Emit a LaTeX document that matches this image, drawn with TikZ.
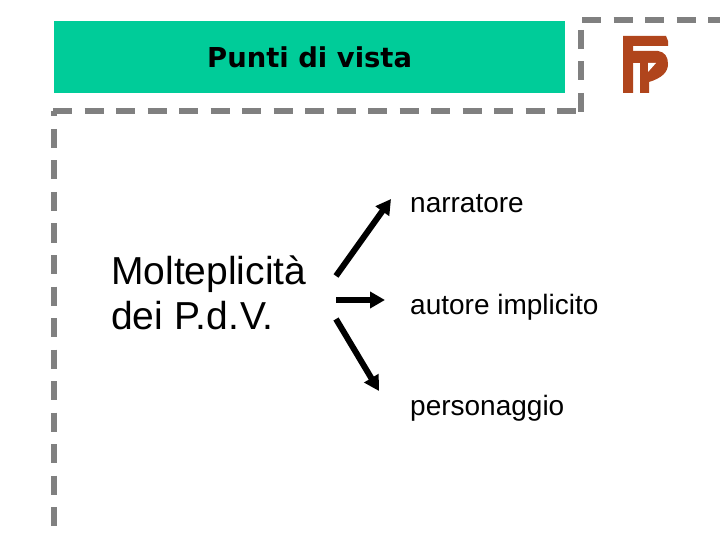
\documentclass[tikz,border=0pt]{standalone}
\usepackage{fontspec}
\setmainfont{Liberation Sans}
\newfontfamily\titlefont{DejaVu Sans}
\usetikzlibrary{arrows.meta}
\definecolor{band}{HTML}{00CC99}
\definecolor{dashgrey}{HTML}{808080}
\definecolor{logobrown}{HTML}{B0451C}
\tikzset{
  dashline/.style={draw=dashgrey,line width=6pt,dash pattern=on 19pt off 12.5pt},
  label/.style={anchor=base west,inner sep=0pt,font=\fontsize{28}{28}\selectfont},
  bigtext/.style={anchor=base west,inner sep=0pt,align=left,font=\fontsize{39}{45}\selectfont},
  branch/.style={-{Triangle[length=15pt,width=16pt]},line width=6pt,black}
}
\begin{document}
\begin{tikzpicture}[x=1pt,y=-1pt]
\useasboundingbox (0,0) rectangle (720,540);
\fill[white] (0,0) rectangle (720,540);
\node[fill=band,minimum width=511pt,minimum height=72pt,inner sep=0pt,anchor=north west] (header) at (54,21) {};
\node[inner sep=0pt,anchor=base west,font=\titlefont\bfseries\fontsize{27.4}{27.4}\selectfont] (title) at (207,68) {Punti di vista};
% dashed frame
\draw[dashline] (582,20.5) -- (720,20.5);
\draw[dashline] (581,30) -- (581,112);
\draw[dashline] (53,111) -- (576,111);
\draw[dashline] (54,129) -- (54,526);
\fill[dashgrey] (51,111) rectangle (57,116);
% logo
\fill[logobrown] (623,36) -- (666,36) -- (668,41) -- (668,46) -- (633,46) -- (633,93) -- (623,93) -- cycle;
\fill[logobrown] (633,51) -- (658,51) .. controls (665,52) and (668,57) .. (668,64)
  .. controls (668,72) and (662,78) .. (649,82) -- (649,93) -- (640,93) -- (640,63) -- (633,63) -- cycle;
\fill[white] (648,63) -- (656,63) -- (648,72) -- cycle;
% texts
\node[label] (nar) at (410,213) {narratore};
\node[label] (aut) at (410,314) {autore implicito};
\node[label] (per) at (410,415) {personaggio};
\node[bigtext] (mol) at (111,329) {Molteplicità\\dei P.\kern1pt d.\kern1pt V.};
% arrows
\coordinate (a1) at (336,276);
\coordinate (a2) at (336,300);
\coordinate (a3) at (336,319);
\coordinate (b1) at (391,199);
\coordinate (b2) at (385,300);
\coordinate (b3) at (379,391);
\draw[branch] (a1) -- (b1);
\draw[branch] (a2) -- (b2);
\draw[branch] (a3) -- (b3);
\end{tikzpicture}
\end{document}
